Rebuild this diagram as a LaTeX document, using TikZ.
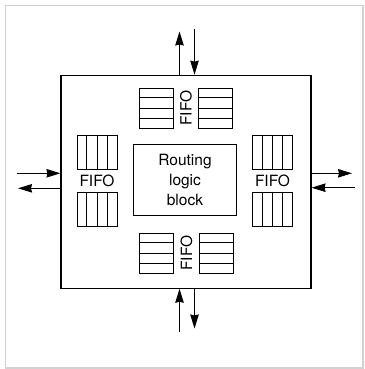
\documentclass[tikz,border=0pt]{standalone}
\usepackage{fontspec}
\setmainfont{TeX Gyre Heros}
\usepackage{graphicx}
\usepackage{tikz}
\usetikzlibrary{arrows.meta,positioning,calc}

\begin{document}
\begin{tikzpicture}[x=1pt,y=-1pt,font=\fontsize{15.5}{20}\selectfont,line width=1pt,
  >={Stealth[length=14pt,width=8.5pt,inset=1pt]},node distance=5pt and 6pt,
  lbl/.style={inner sep=0pt},
  fifoh/.style={draw,inner sep=0pt,minimum width=40pt,minimum height=34pt},
  fifov/.style={draw,inner sep=0pt,minimum width=34pt,minimum height=40pt}]
  \useasboundingbox (0,0) rectangle (364,369);
  \draw[gray!35,line width=1.5pt] (5.5,5.5) rectangle (363,368);
  \node[draw,line width=1.1pt,inner sep=0pt,minimum width=250pt,minimum height=213pt] (router) at (186,181.7) {};
  \node[draw,align=center,inner sep=0pt,minimum width=103pt,minimum height=71pt] (logic) at (185,180) {Routing\\logic\\block};
  % left and right queues
  \node[lbl] (lf) at (97,181) {FIFO};
  \node[fifoh,above=of lf] (lfa) {};
  \node[fifoh,below=of lf] (lfb) {};
  \node[lbl] (rf) at (272.5,181) {FIFO};
  \node[fifoh,above=of rf] (rfa) {};
  \node[fifoh,below=of rf] (rfb) {};
  % top and bottom queues
  \node[lbl] (tf) at (186,108) {\rotatebox{90}{FIFO}};
  \node[fifov,left=of tf] (tfa) {};
  \node[fifov,right=of tf] (tfb) {};
  \node[lbl] (bf) at (186.5,253) {\rotatebox{90}{FIFO}};
  \node[fifov,left=of bf] (bfa) {};
  \node[fifov,right=of bf] (bfb) {};
  \foreach \b in {lfa,lfb,rfa,rfb}
    \foreach \k in {1,2,3}
      \draw ($(\b.north west)!\k/4!(\b.north east)$) -- ($(\b.south west)!\k/4!(\b.south east)$);
  \foreach \b in {tfa,tfb,bfa,bfb}
    \foreach \k in {1,2,3}
      \draw ($(\b.north west)!\k/4!(\b.south west)$) -- ($(\b.north east)!\k/4!(\b.south east)$);
  % ports
  \coordinate (nout) at (179.5,31.5);
  \coordinate (nin) at (194.5,29);
  \coordinate (sin) at (179.5,332);
  \coordinate (sout) at (194.5,328.5);
  \coordinate (win) at (16.5,173.3);
  \coordinate (wout) at (18,188.3);
  \coordinate (eout) at (352,173.3);
  \coordinate (ein) at (355,187.7);
  \draw[->] (router.north -| nout) -- (nout);
  \draw[->] (nin) -- (router.north -| nin);
  \draw[->] (sin) -- (router.south -| sin);
  \draw[->] (router.south -| sout) -- (sout);
  \draw[->] (win) -- (router.west |- win);
  \draw[->] (router.west |- wout) -- (wout);
  \draw[->] (router.east |- eout) -- (eout);
  \draw[->] (ein) -- (router.east |- ein);
\end{tikzpicture}
\end{document}
